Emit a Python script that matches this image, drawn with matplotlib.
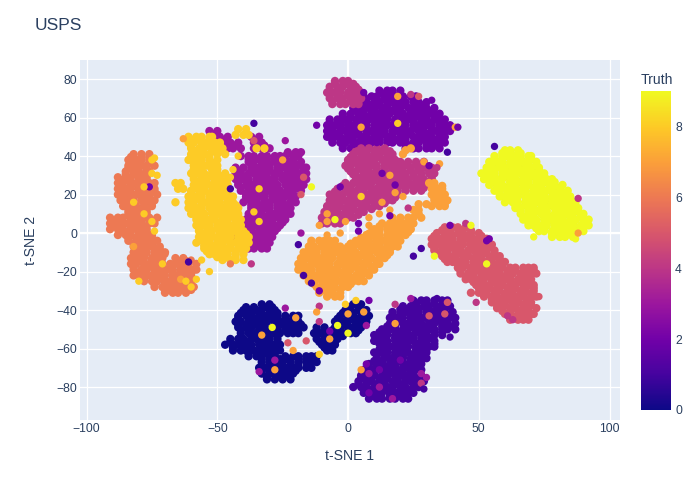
import matplotlib
matplotlib.use("Agg")
import matplotlib.pyplot as plt
from matplotlib.colors import LinearSegmentedColormap

# points, one row per t-SNE 2 value: {y: [x, x, ...]}
digit_0 = {
    -37: [-33, -30, 2, 5],
    -38.5: [-39, -36, -32, -29, 0, 4],
    -40: [-40, -38, -35, -33, -30, -28, -1, 1, 4, 7],
    -41.5: [-41, -37, -34, -30, -27, -2, 2, 6],
    -43: [-42, -39, -37, -34, -32, -29, -27, -24, -21, -19, -3, 0, 2, 5, 8],
    -44.5: [-42, -38, -35, -31, -28, -24, -21, -4, 0, 3, 7],
    -46: [-43, -41, -38, -36, -33, -31, -28, -26, -23, -21, -19, -5, -2, 0, 3, 5, 7],
    -47.5: [-42, -39, -35, -32, -28, -25, -21, -18, -4, -1, 3, 6],
    -49: [-42, -39, -37, -34, -32, -29, -27, -24, -22, -19, -17, -12, -9, -5, -3, 0, 2, 5],
    -50.5: [-41, -38, -34, -31, -27, -24, -20, -12, -9, -6, -3, 1, 4],
    -52: [-41, -38, -36, -33, -31, -28, -26, -23, -21, -19, -13, -10, -7, -4, -1, 1, 3],
    -53.5: [-41, -37, -34, -30, -27, -12, -9, -5, -2],
    -55: [-45, -42, -40, -37, -35, -32, -30, -27, -12, -9, -7, -4],
    -56.5: [-45, -41, -38, -34, -31, -27, -11, -8, -5],
    -58: [-47, -44, -42, -39, -37, -34, -32, -29, -26, -10, -7, -5],
    -59.5: [-44, -40, -37, -33, -30, -27, -9, -7],
    -61: [-44, -41, -39, -36, -34, -31, -29, -26, -8, -6],
    -62.5: [-38, -34, -31, -28],
    -64: [-38, -35, -33, -30, -28, -24, -21, -19, -16, -14, -12],
    -65.5: [-33, -30, -26, -23, -19, -16, -13],
    -67: [-33, -30, -28, -25, -22, -19, -16, -14, -12],
    -68.5: [-33, -29, -26, -22, -19, -15],
    -70: [-34, -31, -29, -26, -24, -21, -19, -16, -14],
    -71.5: [-33, -30, -26, -23, -20],
    -73: [-33, -30, -28, -25, -23, -21],
    -74.5: [-31, -27, -24],
    -76: [-31, -28, -25, -22],
}
digit_1 = {
    -35: [25, 28, 30, 33, 36, 38],
    -36.5: [26, 30, 33, 37],
    -38: [21, 24, 26, 29, 31, 34, 36, 39],
    -39.5: [20, 23, 27, 30, 34, 37],
    -41: [17, 20, 22, 25, 27, 30, 32, 35, 37, 40],
    -42.5: [17, 20, 24, 27, 31, 34, 38],
    -44: [16, 19, 21, 24, 26, 29, 31, 34, 36, 39, 41],
    -45.5: [17, 20, 24, 27, 31, 34, 38],
    -47: [16, 18, 21, 23, 26, 28, 31, 33, 36, 38, 41],
    -48.5: [15, 18, 22, 25, 29, 32, 36, 39],
    -50: [13, 16, 18, 21, 23, 26, 28, 31, 33, 36, 38, 41],
    -51.5: [12, 15, 19, 22, 26, 29, 33, 36],
    -53: [10, 13, 15, 18, 20, 23, 25, 28, 30, 33, 36],
    -54.5: [11, 14, 18, 21, 25, 28, 32],
    -56: [10, 13, 15, 18, 20, 23, 25, 28, 30, 33],
    -57.5: [12, 15, 19, 22, 26, 29, 33],
    -59: [13, 16, 18, 21, 23, 26, 28, 31, 33],
    -60.5: [12, 15, 19, 22, 26, 29],
    -62: [10, 13, 15, 18, 20, 23, 26, 28, 30],
    -63.5: [11, 14, 18, 21, 25, 28],
    -65: [11, 14, 16, 19, 21, 24, 26, 29, 30],
    -66.5: [10, 13, 17, 20, 24, 27],
    -68: [8, 11, 13, 16, 18, 21, 23, 26, 28],
    -69.5: [8, 11, 15, 18, 22, 25],
    -71: [6, 9, 11, 14, 16, 19, 21, 24, 26, 28],
    -72.5: [7, 10, 14, 17, 21, 24],
    -74: [5, 8, 10, 13, 15, 18, 20, 23, 25, 28],
    -75.5: [5, 8, 12, 15, 19, 22, 26],
    -77: [4, 7, 9, 12, 14, 17, 19, 22, 24, 27, 29],
    -78.5: [4, 7, 11, 14, 18, 21, 25],
    -80: [2, 5, 7, 10, 12, 15, 17, 20, 22, 25, 27],
    -81.5: [6, 9, 13, 16, 20, 23],
    -83: [6, 8, 11, 13, 16, 18, 21, 23, 25],
    -84.5: [9, 12, 16, 19, 22],
    -86: [8, 11, 13, 16, 18, 21, 23],
}
digit_2 = {
    74: [12, 15, 17, 20],
    72.5: [13, 17],
    71: [6, 9, 11, 14, 16, 19, 21, 24, 26],
    69.5: [7, 11, 14, 18, 21, 25],
    68: [4, 7, 10, 12, 15, 17, 20, 22, 25, 27, 30],
    66.5: [5, 8, 12, 15, 19, 22, 26, 29],
    65: [2, 5, 8, 10, 13, 15, 18, 20, 23, 25, 28, 30, 33],
    63.5: [3, 6, 10, 13, 17, 20, 24, 27, 31],
    62: [-2, 1, 4, 6, 9, 11, 14, 16, 19, 21, 24, 26, 29, 31, 33, 35],
    60.5: [-2, 1, 5, 8, 12, 15, 19, 22, 26, 29, 33],
    59: [-7, -4, -2, 0, 3, 5, 8, 10, 13, 15, 18, 20, 23, 25, 28, 30, 33, 35, 37],
    57.5: [-7, -3, 0, 4, 7, 11, 14, 18, 21, 25, 28, 32, 35],
    56: [-8, -5, -3, 0, 2, 5, 7, 10, 12, 15, 17, 20, 22, 25, 27, 30, 32, 35, 37, 39],
    54.5: [-7, -3, 0, 4, 7, 11, 14, 18, 21, 25, 28, 32, 35, 38],
    53: [-8, -6, -3, -1, 2, 4, 7, 9, 12, 14, 17, 19, 22, 24, 27, 29, 32, 34, 37, 39],
    51.5: [-7, -4, 0, 3, 7, 10, 14, 17, 21, 24, 28, 31, 35],
    50: [-8, -5, -3, 0, 2, 5, 7, 10, 12, 15, 17, 20, 22, 25, 27, 30, 32, 35, 37],
    48.5: [-6, -2, 1, 5, 8, 12, 15, 19, 22, 26, 29, 33, 36],
    47: [-6, -3, -1, 2, 4, 7, 9, 12, 15, 17, 20, 22, 25, 27, 30, 32, 35, 37],
    45.5: [-2, 2, 5, 23, 26, 30, 33],
    44: [-2, 1, 3, 6, 8, 22, 25, 27, 30, 32, 35],
}
digit_3 = {
    53: [-53, -50],
    51.5: [-52],
    50: [-52, -49, -46, -37, -34],
    48.5: [-50, -47, -36],
    47: [-50, -47, -45, -42, -36, -33],
    45.5: [-46, -43, -35, -32],
    44: [-46, -44, -41, -36, -33, -30],
    42: [-23, -20, -18],
    40: [-41, -38, -36, -33, -31, -28, -26, -24, -21, -19],
    38.5: [-38, -35, -31, -28, -24, -21],
    37: [-38, -36, -33, -31, -28, -26, -23, -21, -18],
    35.5: [-37, -33, -30, -26, -23, -19],
    34: [-43, -40, -37, -35, -32, -30, -27, -25, -22, -20, -17, -16],
    32.5: [-41, -37, -34, -30, -27, -23, -20, -17],
    31: [-43, -41, -38, -36, -33, -31, -28, -26, -23, -21, -18, -16],
    29.5: [-42, -39, -35, -32, -28, -25, -21, -18],
    28: [-43, -40, -38, -35, -33, -30, -28, -25, -23, -20, -18, -16],
    26.5: [-42, -38, -35, -31, -28, -24, -21, -18],
    25: [-42, -39, -37, -34, -32, -29, -27, -24, -22, -19, -17],
    23.5: [-41, -37, -34, -30, -27, -23, -20],
    22: [-41, -38, -36, -33, -31, -28, -26, -23, -21, -18],
    20.5: [-39, -36, -32, -29, -25, -22],
    19: [-39, -37, -34, -32, -29, -27, -24, -22, -20],
    17.5: [-39, -35, -32, -28, -25, -21],
    16: [-40, -37, -35, -32, -30, -27, -25, -22, -20],
    14.5: [-37, -34, -30, -27, -23],
    13: [-37, -35, -32, -30, -27, -25, -22],
    11.5: [-37, -33, -30, -26, -23],
    10: [-38, -35, -33, -30, -28, -25, -22],
    8.5: [-38, -34, -31, -27, -24],
    7: [-39, -36, -34, -31, -29, -26, -24],
    5.5: [-39, -36, -32, -29, -25],
    4: [-41, -38, -36, -33, -31, -28, -26],
    2.5: [-41, -37, -34, -30, -27],
    1: [-42, -39, -37, -34, -32, -29, -28],
    -0.5: [-42, -38, -35, -31, -29],
    -2: [-43, -40, -38, -35, -33, -31, -29],
    -3.5: [-41, -38, -34, -31],
    -5: [-41, -39, -36, -34, -31, -30],
    -6.5: [-38, -35, -32],
    -8: [-38, -36, -33, -31],
}
digit_4 = {
    79: [-5, -2, 0],
    77.5: [-5, -1, 2],
    76: [-7, -4, -2, 1, 3],
    74.5: [-7, -3, 1, 4],
    73: [-8, -5, -3, 0, 2, 5],
    71.5: [-7, -4, 0, 3],
    70: [-7, -4, -2, 1, 3, 5],
    68.5: [-6, -2, 1, 4],
    67: [-6, -3, -1, 2, 4],
    44: [5, 8, 11, 14],
    42.5: [3, 6, 10, 13, 16],
    41: [2, 5, 7, 10, 12, 15, 17],
    39.5: [1, 5, 8, 12, 15, 17],
    38: [0, 3, 5, 8, 10, 13, 15, 18],
    37: [20, 23, 26, 29],
    36.5: [0, 3, 7, 10, 14, 16],
    35.5: [19, 22, 26, 29],
    35: [-1, 1, 4, 6, 9, 11, 14, 16],
    34: [18, 21, 24, 27, 29, 32],
    33.5: [0, 4, 7, 11, 14],
    32.5: [17, 20, 24, 27, 31],
    32: [1, 3, 6, 8, 11, 14],
    31: [16, 19, 22, 25, 28, 31, 33],
    30.5: [2, 6, 9, 12],
    29.5: [15, 18, 21, 25, 28, 32],
    29: [3, 5, 8, 10, 12],
    28: [14, 17, 20, 23, 26, 29, 32],
    27.5: [3, 6, 10, 13],
    26.5: [15, 19, 22, 26, 29],
    26: [-1, 2, 4, 7, 9, 12, 14, 16],
    25: [18, 21, 24, 27, 29, 31],
    24.5: [-2, 1, 5, 8, 12, 15],
    23.5: [19, 22, 26, 29],
    23: [-4, -1, 1, 4, 6, 9, 11, 14, 17],
    22: [19, 22, 25, 28],
    21.5: [-5, -1, 2, 6, 9, 13, 16],
    20: [-7, -4, -2, 1, 3, 6, 8, 11, 13, 16, 19],
    18.5: [-6, -3, 1, 4, 8, 11, 15, 18],
    17: [-7, -5, -2, 0, 3, 5, 8, 10, 13, 15, 17],
    15.5: [-7, -4, 0, 3, 7, 10, 14],
    14: [-8, -5, -3, 0, 2, 5, 7, 10, 12],
    12.5: [-8, -5, -1, 2, 6, 9],
    11: [-9, -6, -4, -1, 1, 4, 6],
    9.5: [-9, -6, -2, 1, 4],
    8: [-10, -7, -5, -2, 0, 2],
    6.5: [-9, -6, -3],
    5: [-10, -8, -5, -3],
}
digit_5 = {
    3: [37, 40, 42, 45],
    1.5: [36, 39, 43, 47],
    0: [34, 37, 39, 42, 44, 47, 50],
    -1.5: [33, 37, 40, 44, 47, 51],
    -3: [32, 35, 38, 40, 43, 45, 48, 50, 53],
    -4.5: [33, 36, 40, 43, 47, 50, 53],
    -6: [32, 34, 37, 39, 42, 44, 47, 49, 52, 55],
    -7.5: [33, 36, 40, 43, 47, 50, 54],
    -9: [33, 36, 38, 41, 43, 46, 48, 51, 53, 56],
    -10.5: [35, 38, 42, 45, 49, 52, 56],
    -12: [36, 39, 41, 44, 46, 49, 51, 54, 56, 58],
    -13.5: [37, 41, 44, 48, 51, 55, 58],
    -15: [38, 40, 43, 45, 48, 50, 53, 55, 58, 60],
    -16.5: [42, 45, 49, 52, 56, 59],
    -18: [42, 44, 47, 49, 52, 54, 57, 59, 62, 64, 67, 69, 71],
    -19.5: [43, 47, 50, 54, 57, 61, 64, 68, 71],
    -21: [43, 46, 48, 51, 53, 56, 58, 61, 63, 66, 68, 70, 72],
    -22.5: [45, 48, 52, 55, 59, 62, 66, 69],
    -24: [45, 47, 50, 52, 55, 57, 60, 62, 65, 67, 70],
    -25.5: [48, 51, 55, 58, 62, 65, 69],
    -27: [49, 52, 54, 57, 59, 62, 64, 67, 69, 71],
    -28.5: [50, 54, 57, 61, 64, 68, 71],
    -30: [51, 53, 56, 58, 61, 63, 66, 68, 71],
    -31: [47, 50],
    -31.5: [53, 56, 60, 63, 67, 70],
    -33: [52, 55, 57, 60, 62, 65, 67, 70, 72],
    -34.5: [55, 58, 62, 65, 69],
    -36: [55, 58, 60, 63, 65, 68, 70],
    -37.5: [57, 60, 64, 67, 70],
    -39: [57, 59, 62, 64, 67, 69, 72],
    -40.5: [59, 62, 66, 69],
    -42: [60, 62, 65, 67, 70, 71],
    -43.5: [62, 65, 68],
    -45: [62, 65, 67, 69],
}
digit_6 = {
    41: [-82, -79, -76],
    39.5: [-83, -79, -76],
    38: [-84, -81, -79, -76, -75],
    36.5: [-83, -80, -76],
    35: [-84, -82, -79, -77, -74],
    33.5: [-84, -81, -77],
    32: [-85, -82, -80, -77, -76],
    30.5: [-85, -81, -78],
    29: [-88, -85, -83, -80, -78, -77],
    27.5: [-87, -84, -80, -77],
    26: [-88, -86, -83, -81, -78, -76, -74],
    24.5: [-87, -83, -80, -76],
    23: [-88, -85, -83, -80, -78, -75, -74],
    21.5: [-87, -84, -80, -77, -74],
    20: [-88, -86, -83, -81, -78, -76, -73],
    18.5: [-86, -83, -79, -76],
    17: [-87, -84, -82, -79, -77, -74],
    15.5: [-85, -82, -78, -75],
    14: [-86, -83, -81, -78, -75],
    12.5: [-84, -80, -77],
    11: [-84, -82, -79, -77],
    9.5: [-84, -80, -77],
    8: [-91, -88, -86, -83, -81, -78, -76, -73],
    6.5: [-90, -87, -83, -80, -76],
    5: [-91, -89, -86, -84, -81, -79, -76, -74],
    3.5: [-90, -87, -83, -80, -78],
    2: [-91, -88, -86, -83, -81, -78, -77],
    0.5: [-87, -84, -80, -77],
    -1: [-88, -85, -83, -80, -78, -75],
    -2.5: [-84, -81, -77, -75],
    -4: [-84, -81, -79, -76, -73],
    -5.5: [-82, -78, -75],
    -7: [-82, -80, -77, -75, -72],
    -8.5: [-81, -78, -74, -72],
    -10: [-82, -79, -77, -74, -72, -70],
    -11.5: [-81, -78, -74, -71],
    -13: [-83, -80, -78, -75, -73, -71, -66, -63],
    -14.5: [-82, -79, -75, -72, -65, -62],
    -16: [-83, -81, -78, -76, -73, -71, -68, -66, -63, -61, -58],
    -17.5: [-82, -78, -75, -71, -68, -64, -61],
    -19: [-82, -79, -77, -74, -72, -69, -67, -64, -62, -59, -58],
    -20.5: [-81, -78, -74, -71, -67, -64, -60],
    -22: [-82, -80, -77, -75, -72, -70, -67, -65, -62, -60],
    -23.5: [-78, -74, -71, -67, -64, -61],
    -25: [-78, -75, -73, -70, -68, -65, -63, -60],
    -26.5: [-74, -70, -67, -63, -60],
    -28: [-74, -71, -69, -66, -64, -61, -59],
    -29.5: [-70, -67, -63, -60],
    -31: [-70, -67, -65, -62],
}
digit_7 = {
    44: [24],
    43: [22],
    41: [21],
    26: [31, 33],
    24.5: [33, 36],
    23: [32, 35, 36],
    21.5: [33, 36],
    20: [32, 34, 37],
    18.5: [33, 36],
    17: [33, 35, 38],
    15.5: [34, 37],
    15: [27, 30],
    14: [32, 35, 37],
    12: [25, 27],
    10: [27],
    8: [17, 20, 23, 25, 28],
    6.5: [17, 20, 24],
    5: [13, 16, 18, 21, 23, 25],
    3.5: [12, 15, 19, 22],
    2: [10, 12, 15, 17, 20, 22, 24],
    0.5: [9, 12, 16, 19, 23],
    -1: [7, 10, 12, 15, 17, 20, 22],
    -2.5: [5, 8, 12, 15, 19],
    -4: [-14, -11, -9, -7, -5, 3, 6, 8, 11, 13, 16, 18, 20],
    -5.5: [-14, -10, -7, 1, 4, 8, 11, 15, 18],
    -7: [-15, -13, -10, -8, -5, -3, 0, 2, 5, 7, 10, 12, 15, 17, 19],
    -8.5: [-15, -12, -8, -5, -1, 2, 6, 9, 13, 16],
    -10: [-17, -14, -12, -9, -7, -4, -2, 1, 3, 6, 8, 11, 13, 16],
    -11.5: [-16, -13, -9, -6, -2, 1, 5, 8, 12, 15],
    -13: [-18, -16, -13, -11, -8, -6, -3, -1, 2, 4, 7, 9, 12, 14],
    -14.5: [-17, -14, -10, -7, -3, 0, 4, 7, 11],
    -16: [-19, -17, -14, -12, -9, -7, -4, -2, 1, 3, 6, 8, 11, 12],
    -17.5: [-18, -15, -11, -8, -4, -1, 3, 6, 10],
    -19: [-19, -16, -14, -11, -9, -6, -4, -1, 1, 4, 6, 9, 10],
    -20.5: [-17, -14, -10, -7, -3, 0, 4, 7],
    -22: [-17, -15, -12, -10, -7, -5, -2, 0, 3, 5, 8],
    -23.5: [-15, -12, -8, -5, -1, 2, 5],
    -25: [-15, -13, -10, -8, -5, -3, 0, 2, 4, 6],
    -26.5: [-13, -9, -6, -2, 1],
    -28: [-12, -10, -7, -5, -2, 0],
    -29.5: [-10, -7, -3],
    -31: [-11, -8, -6, -3],
    -33: [-8, -5, -3],
}
digit_8 = {
    54: [-42, -39],
    51: [-43, -40, -38],
    50: [-61, -58, -56, -53, -52],
    48.5: [-60, -57, -53],
    47: [-61, -59, -56, -54, -51, -49],
    45.5: [-60, -56, -53, -49],
    44: [-60, -57, -55, -52, -50, -48, -35, -32],
    42.5: [-59, -56, -52, -49],
    41: [-60, -58, -55, -53, -50, -47],
    39.5: [-60, -56, -53],
    38: [-61, -58, -56, -53, -50],
    36.5: [-59, -56, -52],
    35: [-59, -57, -54, -52, -50],
    33: [-59, -56, -52, -50],
    31: [-60, -57, -55, -52, -50, -47],
    29.5: [-59, -56, -52, -49],
    28: [-59, -56, -54, -51, -49, -46],
    26.5: [-58, -55, -51, -48],
    26: [-66, -64],
    25: [-59, -57, -54, -52, -49, -46],
    23.5: [-58, -55, -51, -48],
    23: [-65, -63],
    22: [-60, -57, -55, -52, -50, -47],
    20.5: [-60, -56, -53, -49, -46],
    19: [-61, -58, -56, -53, -51, -48, -46, -44],
    17.5: [-60, -57, -53, -50, -46],
    16: [-66, -61, -59, -56, -54, -51, -49, -46, -44],
    14.5: [-60, -56, -53, -49, -46, -43],
    13: [-61, -58, -56, -53, -51, -48, -46, -44, -42],
    11.5: [-59, -56, -52, -49, -45, -43],
    10: [-60, -57, -55, -52, -50, -47, -45, -42],
    8.5: [-58, -55, -51, -48, -44, -42],
    7: [-58, -56, -53, -51, -48, -46, -43, -41],
    5.5: [-57, -54, -50, -47, -43],
    4: [-58, -55, -53, -50, -48, -45, -43, -41],
    2.5: [-57, -53, -50, -46, -43],
    1: [-57, -54, -52, -49, -47, -44, -42, -40],
    -0.5: [-56, -53, -49, -46, -42, -39],
    -2: [-57, -55, -52, -50, -47, -45, -42, -40, -38],
    -3.5: [-56, -53, -49, -46, -42, -39],
    -5: [-58, -55, -53, -50, -48, -45, -43, -40, -38],
    -6.5: [-55, -52, -48, -45, -41],
    -8: [-55, -52, -50, -47, -45, -42, -39],
    -9.5: [-54, -50, -47, -43, -40],
    -11: [-53, -51, -48, -46, -43, -40],
    -12.5: [-50, -47, -43],
    -14: [-48, -45, -43, -40],
}
digit_9 = {
    43: [60, 62, 65],
    41.5: [59, 62, 66],
    40: [56, 59, 61, 64, 66, 69, 70],
    38.5: [56, 59, 63, 66, 70],
    37: [54, 57, 59, 62, 64, 67, 69, 72],
    35.5: [55, 58, 62, 65, 69, 72],
    34: [53, 55, 58, 60, 63, 65, 68, 70, 73],
    32.5: [53, 56, 60, 63, 67, 70, 73],
    31: [51, 54, 56, 59, 61, 64, 66, 69, 71, 73, 75],
    29.5: [53, 56, 60, 63, 67, 70, 74],
    28: [52, 54, 57, 59, 62, 64, 67, 69, 72, 74, 76, 78],
    26.5: [55, 58, 62, 65, 69, 72, 76, 79],
    25: [54, 57, 59, 62, 64, 67, 69, 72, 74, 77, 79, 82],
    23.5: [57, 60, 64, 67, 71, 74, 78, 81],
    22: [56, 58, 61, 63, 66, 68, 71, 73, 76, 78, 81, 84],
    20.5: [58, 61, 65, 68, 72, 75, 79, 82],
    19: [58, 60, 63, 65, 68, 70, 73, 75, 78, 80, 83, 85],
    17.5: [61, 64, 68, 71, 75, 78, 82, 85],
    16: [60, 63, 65, 68, 70, 73, 75, 78, 80, 83, 85, 87],
    14.5: [64, 68, 71, 75, 78, 82, 85],
    13: [64, 66, 69, 71, 74, 76, 79, 81, 84, 86, 88],
    11.5: [66, 69, 73, 76, 80, 83, 87],
    10: [66, 69, 71, 74, 76, 79, 81, 84, 86, 89, 90],
    8.5: [68, 71, 75, 78, 82, 85, 89],
    7: [67, 70, 72, 75, 77, 80, 82, 85, 87, 90, 92],
    5.5: [69, 72, 76, 79, 83, 86, 90],
    4: [69, 71, 74, 76, 79, 81, 84, 86, 89, 91, 92],
    2.5: [72, 75, 79, 82, 86, 89],
    1: [73, 75, 78, 80, 83, 85, 88, 90],
    -0.5: [78, 81, 85],
    -2: [78, 81, 83, 86],
}
digit_rows = [digit_0, digit_1, digit_2, digit_3, digit_4, digit_5, digit_6, digit_7, digit_8, digit_9]

# stray points that sit on top of the clusters
stray_x = [-36, -36, -25, -17, -18, -14, -34, -36, -34, -18, -24, -42, -44, -45, -45, -76, -78, -82, -78, -75, -74,
           -75, -74, -75, -73, -63, -3, -8, -5, -8, -1, -11, -8, -3, -12, 19, 24, 27, 32, 6, 19, 5, 41, 42, 38, 18,
           11, 2, 56, 29, 35, 31, 34, 16, 13, 18, 18, 5, 21, 13, 16, 23, 12, 16, 8, 4, 8, 4, 8, 45, 47, 39, 88, 71,
           87, 88, 54, -82, -70, -71, -60, -61, -56, -53, -80, -64, -62, -58, -60, -37, -45, -19, -17, -14, -11, -11,
           -12, -24, -20, -11, -29, -33, -23, -16, -21, -11, -28, -28, -34, -4, -7, -7, 0, -1, 0, 28, 25, 33, 53, 53,
           73, 49, 63, 61, 34, 24, 18, 38, 37, 31, 39, 18, 5, 20, 12, 7, 8, 28, 30, 28, 29, 17, 8, 12, 3, 8, 6, 7]
stray_y = [57, 48, 38, 29, 20, 24, 23, 11, 6, 0, 48, 40, 33, 29, 23, 24, 24, 16, 10, 6, 1,
           38, 39, 31, 30, 49, 24, 10, 7, 6, 6, 4, -1, 0, 56, 71, 72, 71, 69, 73, 57, 55, 55, 55, 42, 48,
           47, 46, 45, 37, 36, 35, 34, 30, 31, 21, 25, 19, 19, 16, 12, 13, 10, 9, 8, 5, 4, 1, 0, 5, 4, 4, 18, -2,
           -3, 0, -3, -7, -11, -16, -14, -15, -14, -20, -25, -24, -25, -24, -28, -16, -16, -6, -22, -26, -30, -38,
           -41, -39, -44, -46, -49, -53, -57, -56, -61, -63, -66, -71, -72, -48, -51, -55, -52, -37, -42, -8, -12, -12, -4, -16,
           -33, -36, -45, -43, -34, -34, -37, -36, -42, -43, -54, -47, -71, -66, -71, -68, -73, -73, -75, -78, -81, -86, -83, -80, -35, -35, -41, -48]
stray_c = [1, 5, 7, 5, 5, 9, 8, 8, 8, 3, 3, 8, 8, 8, 1, 2, 8, 8, 8, 8, 8,
           8, 8, 8, 8, 7, 2, 7, 9, 7, 7, 7, 7, 7, 2, 7, 4, 5, 2, 2, 8, 7, 7, 2, 1, 2,
           2, 2, 1, 7, 7, 2, 4, 7, 2, 7, 2, 8, 7, 7, 7, 4, 7, 2, 7, 2, 7, 2, 7, 4, 9, 2, 4, 9,
           9, 7, 2, 7, 6, 8, 6, 1, 8, 8, 8, 7, 8, 8, 8, 4, 6, 1, 1, 1, 2, 4,
           7, 3, 7, 4, 9, 7, 5, 5, 7, 8, 3, 7, 3, 9, 2, 7, 9, 8, 7, 1, 1, 9, 2, 9,
           5, 4, 4, 4, 1, 3, 4, 5, 5, 5, 1, 7, 7, 2, 2, 2, 3, 3, 3, 4, 1, 3, 2, 3, 8, 2, 7, 3]

x_ticks = [-100, -50, 0, 50, 100]
y_ticks = [-80, -60, -40, -20, 0, 20, 40, 60, 80]
bar_ticks = [0, 2, 4, 6, 8]
plasma_stops = ["#0d0887", "#46039f", "#7201a8", "#9c179e", "#bd3786",
                "#d8576b", "#ed7953", "#fb9f3a", "#fdca26", "#f0f921"]

plt.rcParams['font.family'] = ['Liberation Sans', 'DejaVu Sans']
text_col = "#2a3f5f"
cmap = LinearSegmentedColormap.from_list("plasma_px", plasma_stops)

xs, ys, cs = [], [], []
for digit, rows in enumerate(digit_rows):
    for y, row in rows.items():
        for x in row:
            xs.append(x)
            ys.append(y)
            cs.append(digit)

W, H = 700, 500
fig = plt.figure(figsize=(7, 5), dpi=100)
ax = fig.add_axes([80 / W, 1 - 420 / H, 540 / W, 360 / H])
ax.set_facecolor("#E5ECF6")
for s in ax.spines.values():
    s.set_visible(False)
ax.set_axisbelow(True)
ax.grid(True, color="white", linewidth=0.9)
ax.axvline(0, color="white", linewidth=1.6, zorder=1)
ax.axhline(0, color="white", linewidth=1.6, zorder=1)

# clusters a little fatter so the typed rows close up, strays at the true dot size
sc = ax.scatter(xs, ys, c=cs, cmap=cmap, vmin=0, vmax=9, s=36, linewidths=0, zorder=2)
ax.scatter(stray_x, stray_y, c=stray_c, cmap=cmap, vmin=0, vmax=9, s=28, linewidths=0, zorder=3)

ax.set_xlim(-102.5, 104)
ax.set_ylim(-97.1, 89.9)
ax.set_xticks(x_ticks)
ax.set_yticks(y_ticks)
ax.tick_params(length=0, labelsize=8.7, colors=text_col, pad=2)

fig.text(35 / W, 1 - 25.5 / H, "USPS", fontsize=12.5, color=text_col, ha="left", va="center")
fig.text(349.5 / W, 1 - 456.5 / H, "t-SNE 1", fontsize=10.1, color=text_col, ha="center", va="center")
fig.text(31 / W, 1 - 240 / H, "t-SNE 2", fontsize=10.1, color=text_col, ha="center", va="center", rotation=90)
fig.text(641 / W, 1 - 80 / H, "Truth", fontsize=10.1, color=text_col, ha="left", va="center")

cax = fig.add_axes([641 / W, 1 - 410 / H, 30 / W, 319 / H])
cb = fig.colorbar(sc, cax=cax, ticks=bar_ticks)
cb.outline.set_visible(False)
cb.ax.tick_params(length=0, labelsize=8.7, colors=text_col, pad=3)

plt.savefig("out.png", dpi=100)
